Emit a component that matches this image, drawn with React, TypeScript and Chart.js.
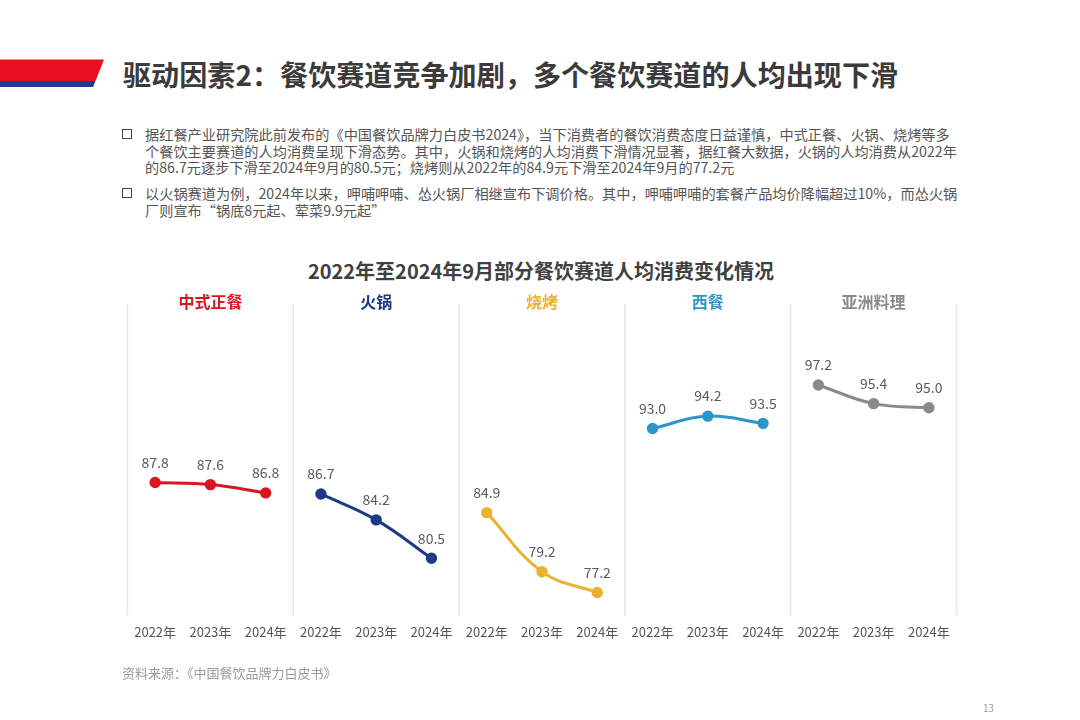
import React, { useEffect, useRef } from "react";
import { Chart, registerables } from "chart.js";

Chart.register(...registerables);

const groups = ["中式正餐", "火锅", "烧烤", "西餐", "亚洲料理"];
const groupColors = ["#d7161f", "#1e3a86", "#ebb22f", "#2b97c9", "#8a8a8a"];
const years = ["2022年", "2023年", "2024年"];
const chineseDinner = [87.8, 87.6, 86.8];
const hotpot = [86.7, 84.2, 80.5];
const barbecue = [84.9, 79.2, 77.2];
const western = [93.0, 94.2, 93.5];
const asian = [97.2, 95.4, 95.0];
const seriesValues = [chineseDinner, hotpot, barbecue, western, asian];

const FONT = "'Noto Sans CJK SC', 'Noto Sans', sans-serif";

const labels: string[] = [];
groups.forEach(() => years.forEach((y) => labels.push(y)));

const datasets = seriesValues.map((vals, g) => {
  const data: (number | null)[] = labels.map(() => null);
  vals.forEach((v, i) => (data[g * 3 + i] = v));
  return {
    label: groups[g],
    data,
    borderColor: groupColors[g],
    backgroundColor: groupColors[g],
    pointBackgroundColor: groupColors[g],
    pointBorderColor: groupColors[g],
    pointRadius: 4.2,
    borderWidth: 3,
    tension: 0.4,
    spanGaps: false,
  };
});

const panelPlugin = {
  id: "panels",
  beforeDatasetsDraw(chart: any) {
    const { ctx, chartArea, scales } = chart;
    const xs = scales.x;
    const w = (chartArea.right - chartArea.left) / labels.length;
    ctx.save();
    ctx.strokeStyle = "#e6e6e6";
    ctx.lineWidth = 1.5;
    for (let g = 0; g <= groups.length; g++) {
      const x =
        g < groups.length
          ? xs.getPixelForTick(g * 3) - w / 2
          : xs.getPixelForTick(labels.length - 1) + w / 2;
      ctx.beginPath();
      ctx.moveTo(x, chartArea.top);
      ctx.lineTo(x, chartArea.bottom);
      ctx.stroke();
    }
    ctx.font = `bold 16px ${FONT}`;
    ctx.textAlign = "center";
    ctx.textBaseline = "middle";
    groups.forEach((name, g) => {
      ctx.fillStyle = groupColors[g];
      ctx.fillText(name, xs.getPixelForTick(g * 3 + 1), chartArea.top - 2);
    });
    ctx.restore();
  },
  afterDatasetsDraw(chart: any) {
    const { ctx } = chart;
    ctx.save();
    ctx.font = `14px ${FONT}`;
    ctx.fillStyle = "#5a5a5a";
    ctx.textAlign = "center";
    ctx.textBaseline = "middle";
    chart.data.datasets.forEach((ds: any, di: number) => {
      const meta = chart.getDatasetMeta(di);
      meta.data.forEach((el: any, i: number) => {
        const v = ds.data[i];
        if (v === null || v === undefined) return;
        ctx.fillText(v.toFixed(1), el.x, el.y - 20);
      });
    });
    ctx.restore();
  },
};

export default function App() {
  const ref = useRef<HTMLCanvasElement>(null);
  useEffect(() => {
    if (!ref.current) return;
    const chart = new Chart(ref.current, {
      type: "line",
      data: { labels, datasets },
      options: {
        responsive: false,
        animation: false,
        layout: { padding: { left: 127.5, right: 123.5, top: 304, bottom: 79 } },
        plugins: { legend: { display: false }, tooltip: { enabled: false } },
        scales: {
          x: {
            offset: true,
            grid: { display: false },
            border: { display: false },
            ticks: {
              color: "#555555",
              padding: 1,
              font: { family: FONT, size: 13 },
              maxRotation: 0,
              autoSkip: false,
            },
          },
          y: { display: false, min: 75, max: 105 },
        },
      },
      plugins: [panelPlugin],
    });
    return () => chart.destroy();
  }, []);

  const textStyle: React.CSSProperties = {
    position: "absolute",
    left: 145,
    fontSize: 14.2,
    lineHeight: "16px",
    color: "#555",
    whiteSpace: "nowrap",
    fontFamily: FONT,
  };
  const box = (top: number): React.CSSProperties => ({
    position: "absolute",
    left: 122,
    top,
    width: 8,
    height: 8,
    border: "1.6px solid #444",
  });

  return (
    <div
      style={{
        position: "fixed",
        left: 0,
        top: 0,
        width: 1080,
        height: 720,
        background: "#fff",
        fontFamily: FONT,
        overflow: "hidden",
      }}
    >
      <svg width={120} height={100} style={{ position: "absolute", left: 0, top: 0 }}>
        <polygon points="0,59.5 104,59.5 95.5,81 0,81" fill="#e8101f" />
        <polygon points="0,81 95.5,81 93,87 0,87" fill="#233a8a" />
      </svg>
      <div
        style={{
          position: "absolute",
          left: 123,
          top: 58,
          fontSize: 28.1,
          lineHeight: "32px",
          fontWeight: "bold",
          color: "#3b3b3b",
          whiteSpace: "nowrap",
        }}
      >
        驱动因素2：餐饮赛道竞争加剧，多个餐饮赛道的人均出现下滑
      </div>
      <div style={box(129)} />
      <div style={{ ...textStyle, top: 126 }}>
        据红餐产业研究院此前发布的《中国餐饮品牌力白皮书2024》，当下消费者的餐饮消费态度日益谨慎，中式正餐、火锅、烧烤等多
      </div>
      <div style={{ ...textStyle, top: 142.5 }}>
        个餐饮主要赛道的人均消费呈现下滑态势。其中，火锅和烧烤的人均消费下滑情况显著，据红餐大数据，火锅的人均消费从2022年
      </div>
      <div style={{ ...textStyle, top: 159 }}>
        的86.7元逐步下滑至2024年9月的80.5元；烧烤则从2022年的84.9元下滑至2024年9月的77.2元
      </div>
      <div style={box(188)} />
      <div style={{ ...textStyle, top: 185 }}>
        以火锅赛道为例，2024年以来，呷哺呷哺、怂火锅厂相继宣布下调价格。其中，呷哺呷哺的套餐产品均价降幅超过10%，而怂火锅
      </div>
      <div style={{ ...textStyle, top: 202 }}>
        厂则宣布“锅底8元起、荤菜9.9元起”
      </div>
      <div
        style={{
          position: "absolute",
          left: 0,
          width: 1082,
          top: 259,
          textAlign: "center",
          fontSize: 20,
          lineHeight: "24px",
          fontWeight: "bold",
          color: "#404040",
        }}
      >
        2022年至2024年9月部分餐饮赛道人均消费变化情况
      </div>
      <canvas
        ref={ref}
        width={1080}
        height={720}
        style={{ position: "absolute", left: 0, top: 0, width: 1080, height: 720 }}
      />
      <div
        style={{
          position: "absolute",
          left: 122,
          top: 665,
          fontSize: 13,
          lineHeight: "16px",
          color: "#9a9a9a",
        }}
      >
        资料来源：《中国餐饮品牌力白皮书》
      </div>
      <div
        style={{
          position: "absolute",
          left: 983,
          top: 702,
          fontSize: 10,
          lineHeight: "12px",
          color: "#999",
        }}
      >
        13
      </div>
    </div>
  );
}
